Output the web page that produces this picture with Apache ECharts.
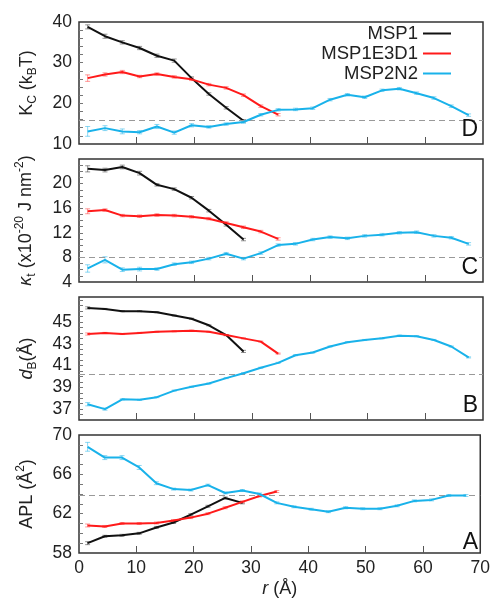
<!DOCTYPE html>
<html>
<head>
<meta charset="utf-8">
<script src="https://cdn.jsdelivr.net/npm/echarts@6/dist/echarts.min.js"></script>
<style>
html,body{margin:0;padding:0;background:#fff;}
#c{width:493px;height:599px;}
</style>
</head>
<body>
<div id="c"></div>
<script>
// ---- data ----
const seriesNames = ['MSP1', 'MSP1E3D1', 'MSP2N2'];
const rAll = [1.5, 4.5, 7.5, 10.5, 13.5, 16.5, 19.5, 22.5, 25.5, 28.5, 31.5, 34.5, 37.5, 40.5, 43.5, 46.5, 49.5, 52.5, 55.5, 58.5, 61.5, 64.5, 67.5];
const rMSP1 = rAll.slice(0, 10);
const rE3D1 = rAll.slice(0, 12);
const r2N2 = rAll;

const kcMSP1 = [38.8, 36.5, 35.0, 33.6, 31.7, 30.5, 26.2, 22.3, 18.9, 15.7];
const kcE3D1 = [26.2, 27.1, 27.7, 26.6, 27.2, 26.5, 25.9, 24.6, 23.8, 22.0, 19.3, 17.2];
const kc2N2 = [13.1, 13.9, 13.1, 12.9, 14.3, 12.8, 14.6, 14.2, 14.9, 15.4, 17.2, 18.4, 18.5, 18.8, 20.9, 22.1, 21.5, 23.2, 23.6, 22.5, 21.3, 19.3, 17.1];
const kcErrMSP1 = [0.5, 0.5, 0.4, 0.4, 0.4, 0.4, 0.3, 0.3, 0.3, 0.3];
const kcErrE3D1 = [0.8, 0.4, 0.4, 0.3, 0.3, 0.3, 0.3, 0.3, 0.3, 0.3, 0.3, 0.3];
const kcErr2N2 = [1.2, 0.6, 0.6, 0.4, 0.5, 0.4, 0.4, 0.3, 0.3, 0.3, 0.3, 0.3, 0.3, 0.3, 0.3, 0.3, 0.3, 0.3, 0.3, 0.3, 0.3, 0.3, 0.3];

const ktMSP1 = [22.4, 22.2, 22.7, 21.7, 19.8, 19.1, 17.7, 15.6, 13.3, 10.9];
const ktE3D1 = [15.5, 15.7, 14.8, 14.7, 14.9, 14.8, 14.6, 14.3, 13.6, 12.9, 12.2, 11.0];
const kt2N2 = [6.2, 7.6, 6.0, 6.1, 6.1, 6.9, 7.2, 7.8, 8.6, 7.8, 8.7, 10.0, 10.2, 10.9, 11.3, 11.1, 11.5, 11.7, 12.0, 12.1, 11.5, 11.2, 10.2];
const ktErrMSP1 = [0.5, 0.3, 0.3, 0.3, 0.2, 0.2, 0.2, 0.2, 0.2, 0.2];
const ktErrE3D1 = [0.4, 0.2, 0.2, 0.2, 0.2, 0.2, 0.2, 0.2, 0.2, 0.2, 0.2, 0.2];
const ktErr2N2 = [0.6, 0.5, 0.3, 0.3, 0.2, 0.2, 0.2, 0.2, 0.2, 0.2, 0.2, 0.2, 0.2, 0.2, 0.2, 0.2, 0.2, 0.2, 0.2, 0.2, 0.2, 0.2, 0.2];

const dbMSP1 = [46.3, 46.2, 46.0, 46.0, 45.9, 45.6, 45.3, 44.7, 43.8, 42.3];
const dbE3D1 = [43.9, 44.0, 43.9, 44.0, 44.1, 44.15, 44.2, 44.1, 43.8, 43.5, 43.2, 42.1];
const db2N2 = [37.45, 37.0, 37.9, 37.85, 38.1, 38.7, 39.05, 39.35, 39.85, 40.3, 40.8, 41.25, 41.95, 42.2, 42.75, 43.15, 43.35, 43.5, 43.75, 43.7, 43.35, 42.75, 41.75];
const dbErrMSP1 = [0.1, 0.05, 0.05, 0.05, 0.05, 0.05, 0.05, 0.05, 0.05, 0.1];
const dbErrE3D1 = [0.1, 0.05, 0.05, 0.05, 0.05, 0.05, 0.05, 0.05, 0.05, 0.05, 0.05, 0.05];
const dbErr2N2 = [0.15, 0.1, 0.05, 0.05, 0.05, 0.05, 0.05, 0.05, 0.05, 0.05, 0.05, 0.05, 0.05, 0.05, 0.05, 0.05, 0.05, 0.05, 0.05, 0.05, 0.05, 0.05, 0.05];

const aplMSP1 = [59.0, 59.7, 59.8, 60.0, 60.6, 61.1, 61.9, 62.75, 63.6, 63.1];
const aplE3D1 = [60.8, 60.7, 61.0, 61.0, 61.05, 61.3, 61.6, 62.0, 62.6, 63.2, 63.8, 64.25];
const apl2N2 = [68.8, 67.7, 67.7, 66.7, 65.1, 64.5, 64.4, 64.9, 64.1, 64.35, 64.0, 63.1, 62.7, 62.45, 62.2, 62.6, 62.5, 62.5, 62.8, 63.3, 63.4, 63.85, 63.85];
const aplErrMSP1 = [0.15, 0.1, 0.1, 0.1, 0.1, 0.1, 0.1, 0.1, 0.1, 0.1];
const aplErrE3D1 = [0.15, 0.1, 0.1, 0.1, 0.1, 0.1, 0.1, 0.1, 0.1, 0.1, 0.1, 0.1];
const aplErr2N2 = [0.45, 0.2, 0.2, 0.2, 0.15, 0.1, 0.1, 0.1, 0.1, 0.1, 0.1, 0.1, 0.1, 0.1, 0.1, 0.1, 0.1, 0.1, 0.1, 0.1, 0.1, 0.1, 0.1];

const refLines = [15.9, 8, 40.2, 63.85];
const panelLetters = ['D', 'C', 'B', 'A'];

const yTickLabels = [
  [10, 20, 30, 40],
  [4, 8, 12, 16, 20],
  [37, 39, 41, 43, 45],
  [58, 62, 66, 70]
];
const xTickLabels = [0, 10, 20, 30, 40, 50, 60, 70];

// ---- layout ----
const FONT = 'Liberation Sans, Arial, sans-serif';
const colors = ['#111111', '#ff1a1a', '#19b2ea'];
const errColors = ['rgba(17,17,17,0.45)', 'rgba(255,26,26,0.45)', 'rgba(25,178,234,0.5)'];
const grids = [
  {top: 22, height: 122},
  {top: 159, height: 123},
  {top: 297, height: 123},
  {top: 435, height: 122}
];
const yRanges = [[10, 40, 2], [4, 24, 1], [36, 47.3, 0.5], [58, 70, 1]];

function tickList(min, max, step) {
  const out = [];
  for (let v = min + step; v < max - 1e-6; v += step) out.push(+v.toFixed(4));
  return out;
}

const subSt = {fontSize: 12, fontFamily: FONT, color: '#222', verticalAlign: 'bottom', lineHeight: 12};
const supSt = {fontSize: 12, fontFamily: FONT, color: '#222', verticalAlign: 'top', lineHeight: 12};
const nSt = {fontSize: 18, fontFamily: FONT, color: '#222', lineHeight: 24};
const iSt = {fontSize: 18, fontFamily: FONT, color: '#222', fontStyle: 'italic', lineHeight: 24};

const yNames = [
  '{n|K}{s|C}{n| (k}{s|B}{n|T)}',
  '{i|κ}{s|t}{n| (x10}{p|-20}{n| J nm}{p|-2}{n|)}',
  '{i|d}{s|B}{n|(Å)}',
  '{n|APL (Å}{p|2}{n|)}'
];
const yNameGaps = [40, 41, 40, 40];

const panelData = [
  [kcMSP1, kcE3D1, kc2N2],
  [ktMSP1, ktE3D1, kt2N2],
  [dbMSP1, dbE3D1, db2N2],
  [aplMSP1, aplE3D1, apl2N2]
];
const panelErr = [
  [kcErrMSP1, kcErrE3D1, kcErr2N2],
  [ktErrMSP1, ktErrE3D1, ktErr2N2],
  [dbErrMSP1, dbErrE3D1, dbErr2N2],
  [aplErrMSP1, aplErrE3D1, aplErr2N2]
];
const rs = [rMSP1, rE3D1, r2N2];

const option = {
  animation: false,
  backgroundColor: '#fff',
  grid: grids.map(g => ({left: 79, right: 10, top: g.top, height: g.height, show: true, borderColor: '#333', borderWidth: 1.5, backgroundColor: 'transparent', containLabel: false})),
  xAxis: grids.map((g, i) => ({
    type: 'value', gridIndex: i, min: 0, max: 70, interval: 10,
    axisLine: {show: false},
    axisTick: {show: true, inside: true, length: 7, lineStyle: {color: '#555', width: 1}, customValues: [10, 20, 30, 40, 50, 60]},
    axisLabel: {show: i === 3, fontSize: 17.5, fontFamily: FONT, color: '#222', margin: 6, customValues: xTickLabels},
    splitLine: {show: false},
    name: i === 3 ? '{i|r}{n| (Å)}' : '',
    nameLocation: 'middle', nameGap: 24,
    nameTextStyle: {rich: {i: iSt, n: nSt}}
  })),
  yAxis: grids.map((g, i) => ({
    type: 'value', gridIndex: i, min: yRanges[i][0], max: yRanges[i][1],
    axisLine: {show: false},
    axisTick: {show: true, inside: true, length: 4, lineStyle: {color: '#777', width: 1}, customValues: tickList(yRanges[i][0], yRanges[i][1], yRanges[i][2])},
    axisLabel: {fontSize: 17.5, fontFamily: FONT, color: '#222', margin: 7, customValues: yTickLabels[i]},
    splitLine: {show: false},
    name: yNames[i], nameLocation: 'middle', nameRotate: 90, nameGap: yNameGaps[i],
    nameTextStyle: {rich: {n: nSt, i: iSt, s: subSt, p: supSt}}
  })),
  legend: {
    orient: 'vertical', right: 42, top: 24, align: 'right',
    itemWidth: 28, itemHeight: 2, itemGap: 1, icon: 'rect', padding: 0,
    textStyle: {fontSize: 18.5, fontFamily: FONT, color: '#222', lineHeight: 18},
    data: seriesNames
  },
  graphic: panelLetters.map((L, i) => ({
    type: 'text', right: 15, top: grids[i].top + grids[i].height - 26, z: 10,
    style: {text: L, font: '23px ' + FONT, fill: '#111'}
  })),
  series: []
};

function renderErr(color) {
  return function (params, api) {
    const x = api.value(0), y = api.value(1), e = api.value(2);
    const t = api.coord([x, y + e]);
    const b = api.coord([x, y - e]);
    const w = 2.5;
    const st = {stroke: color, lineWidth: 1};
    return {
      type: 'group',
      children: [
        {type: 'line', shape: {x1: t[0], y1: t[1], x2: b[0], y2: b[1]}, style: st},
        {type: 'line', shape: {x1: t[0] - w, y1: t[1], x2: t[0] + w, y2: t[1]}, style: st},
        {type: 'line', shape: {x1: b[0] - w, y1: b[1], x2: b[0] + w, y2: b[1]}, style: st}
      ]
    };
  };
}

panelData.forEach((arrs, p) => {
  arrs.forEach((vals, k) => {
    option.series.push({
      type: 'custom', xAxisIndex: p, yAxisIndex: p,
      data: vals.map((v, j) => [rs[k][j], v, panelErr[p][k][j]]),
      renderItem: renderErr(errColors[k]),
      encode: {x: 0, y: 1},
      silent: true, z: 2
    });
    const s = {
      name: seriesNames[k], type: 'line', xAxisIndex: p, yAxisIndex: p,
      data: vals.map((v, j) => [rs[k][j], v]),
      showSymbol: false, symbol: 'none',
      color: colors[k],
      lineStyle: {width: 2, color: colors[k]},
      z: 3 + k
    };
    if (k === 0) {
      s.markLine = {
        silent: true, symbol: 'none', label: {show: false},
        lineStyle: {type: [6, 4], color: '#999', width: 1},
        data: [{yAxis: refLines[p]}]
      };
    }
    option.series.push(s);
  });
});

const chart = echarts.init(document.getElementById('c'), null, {renderer: 'canvas'});
chart.setOption(option);
</script>
</body>
</html>
